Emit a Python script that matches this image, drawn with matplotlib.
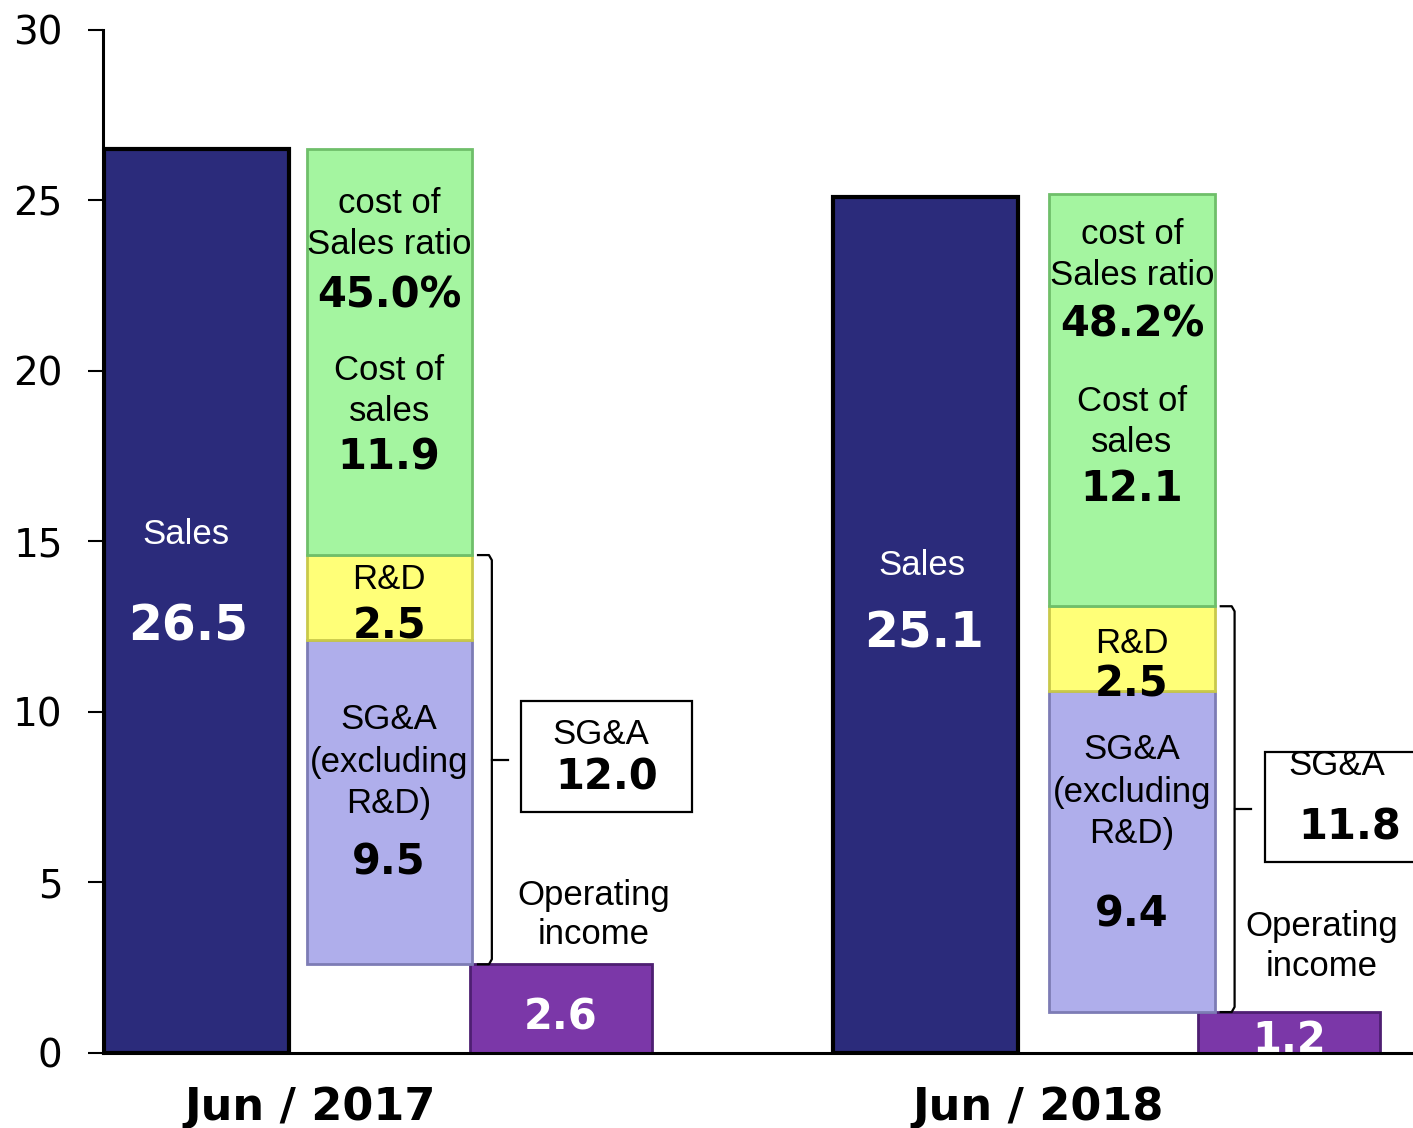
import matplotlib.pyplot as plt
from matplotlib.patches import Rectangle

# ---------------- DATA ----------------
periods = ["Jun / 2017", "Jun / 2018"]
sales = [26.5, 25.1]
cost_of_sales = [11.9, 12.1]
rnd = [2.5, 2.5]
sga_ex_rnd = [9.5, 9.4]
sga_total = [12.0, 11.8]
op_income = [2.6, 1.2]
cost_ratio = ["45.0%", "48.2%"]

# colours
c_sales = "#2b2b7b"
c_cost = "#a4f5a0"
c_rnd = "#ffff78"
c_sga = "#afaeeb"
c_oi = "#7b37a8"

LBL = "Liberation Sans"
NUM = "DejaVu Sans"

fig = plt.figure(figsize=(14.13, 11.28), dpi=100)
ax = fig.add_axes([0.0729, 0.0665, 0.9271, 0.907])

g = [0, 1]
x_stack = [g[0] + 0.264, g[1] + 0.284]
x_oi = [x + 0.5 for x in g]

# ---- bars ----
ax.bar(g, sales, width=0.254, color=c_sales, edgecolor="black", linewidth=3, zorder=2)
ax.bar(x_oi, op_income, width=0.25, color=c_oi, edgecolor="#4e1f72", linewidth=2, zorder=2)
sga_bottom = op_income
rnd_bottom = [a + b for a, b in zip(op_income, sga_ex_rnd)]
cost_bottom = [a + b for a, b in zip(rnd_bottom, rnd)]
ax.bar(x_stack, sga_ex_rnd, bottom=sga_bottom, width=0.227, color=c_sga,
       edgecolor="#7d7cb5", linewidth=2, zorder=2)
ax.bar(x_stack, rnd, bottom=rnd_bottom, width=0.227, color=c_rnd,
       edgecolor="#c9c94a", linewidth=2, zorder=2)
ax.bar(x_stack, cost_of_sales, bottom=cost_bottom, width=0.227, color=c_cost,
       edgecolor="#6fbf6a", linewidth=2, zorder=2)

# ---- text inside bars ----
green_y = [(24.9, 23.7, 22.2, 20.0, 18.8, 17.45), (24.0, 22.8, 21.35, 19.1, 17.9, 16.55)]
rnd_y = [(13.87, 12.5), (12.0, 10.8)]
sga_y = [(9.77, 8.53, 7.33, 5.6), (8.89, 7.65, 6.45, 4.05)]
sales_y = [(15.2, 12.5), (14.3, 12.3)]
sales_dx = [-0.015, -0.004]
oi_y = [1.03, 0.38]
opinc_y = [(4.63, 3.46), (3.72, 2.55)]
box_y = [(10.32, 7.07, 9.33, 8.09), (8.83, 5.6, 8.42, 6.6)]

for i in range(2):
    xs = x_stack[i]
    gy = green_y[i]
    ax.text(xs, gy[0], "cost of", ha="center", va="center", fontsize=25, family=LBL, zorder=5)
    ax.text(xs, gy[1], "Sales ratio", ha="center", va="center", fontsize=25, family=LBL, zorder=5)
    ax.text(xs, gy[2], cost_ratio[i], ha="center", va="center", fontsize=30,
            family=NUM, weight="bold", zorder=5)
    ax.text(xs, gy[3], "Cost of", ha="center", va="center", fontsize=25, family=LBL, zorder=5)
    ax.text(xs, gy[4], "sales", ha="center", va="center", fontsize=25, family=LBL, zorder=5)
    ax.text(xs, gy[5], f"{cost_of_sales[i]:.1f}", ha="center", va="center", fontsize=30,
            family=NUM, weight="bold", zorder=5)

    ax.text(xs, rnd_y[i][0], "R&D", ha="center", va="center", fontsize=25, family=LBL, zorder=5)
    ax.text(xs, rnd_y[i][1], f"{rnd[i]:.1f}", ha="center", va="center", fontsize=30,
            family=NUM, weight="bold", zorder=5)

    sy = sga_y[i]
    ax.text(xs, sy[0], "SG&A", ha="center", va="center", fontsize=25, family=LBL, zorder=5)
    ax.text(xs, sy[1], "(excluding", ha="center", va="center", fontsize=25, family=LBL, zorder=5)
    ax.text(xs, sy[2], "R&D)", ha="center", va="center", fontsize=25, family=LBL, zorder=5)
    ax.text(xs, sy[3], f"{sga_ex_rnd[i]:.1f}", ha="center", va="center", fontsize=30,
            family=NUM, weight="bold", zorder=5)

    ax.text(g[i] + sales_dx[i], sales_y[i][0], "Sales", ha="center", va="center", fontsize=25,
            family=LBL, color="white", zorder=5)
    ax.text(g[i] + sales_dx[i] + 0.003, sales_y[i][1], f"{sales[i]:.1f}", ha="center",
            va="center", fontsize=35, family=NUM, weight="bold", color="white", zorder=5)

    ax.text(x_oi[i], oi_y[i], f"{op_income[i]:.1f}", ha="center", va="center", fontsize=30,
            family=NUM, weight="bold", color="white", zorder=5)
    ax.text(g[i] + 0.545, opinc_y[i][0], "Operating", ha="center", va="center", fontsize=25,
            family=LBL, zorder=5)
    ax.text(g[i] + 0.545, opinc_y[i][1], "income", ha="center", va="center", fontsize=25,
            family=LBL, zorder=5)

    # bracket grouping R&D + SG&A
    top = cost_bottom[i]
    bot = sga_bottom[i]
    mid = (top + bot) / 2
    xe = xs + 0.122
    xv = xs + 0.141
    ax.plot([xe, xv - 0.004, xv, xv, xv - 0.004, xe],
            [top, top, top - 0.15, bot + 0.15, bot, bot],
            color="black", lw=1.6, solid_joinstyle="round", zorder=4)
    ax.plot([xv, xv + 0.022], [mid, mid], color="black", lw=1.6, zorder=4)

    # SG&A total box
    by = box_y[i]
    bx = g[i] + 0.445 + 0.022 * i
    ax.add_patch(Rectangle((bx, by[1]), 0.235, by[0] - by[1], facecolor="white",
                           edgecolor="black", lw=1.6, zorder=3, clip_on=False))
    ax.text(g[i] + 0.555 + 0.01 * i, by[2], "SG&A", ha="center", va="center", fontsize=25,
            family=LBL, zorder=5)
    ax.text(g[i] + 0.563 + 0.02 * i, by[3], f"{sga_total[i]:.1f}", ha="center", va="center",
            fontsize=30, family=NUM, weight="bold", zorder=5)

# ---- axes ----
ax.set_xlim(-0.129, 1.670)
ax.set_ylim(0, 30)
ax.set_yticks(range(0, 31, 5))
ax.tick_params(axis="y", direction="out", length=11, width=1.5, pad=18, labelsize=28)
for lab in ax.get_yticklabels():
    lab.set_family(NUM)
ax.set_xticks([x + 0.155 for x in g])
ax.set_xticklabels(periods, fontsize=32, family=NUM, weight="bold")
ax.tick_params(axis="x", length=0, pad=24)
for s in ["top", "right"]:
    ax.spines[s].set_visible(False)
ax.spines["left"].set_linewidth(2.2)
ax.spines["bottom"].set_linewidth(2.2)
ax.spines["left"].set_zorder(6)
ax.spines["bottom"].set_zorder(6)

plt.savefig("out.png", dpi=100)
